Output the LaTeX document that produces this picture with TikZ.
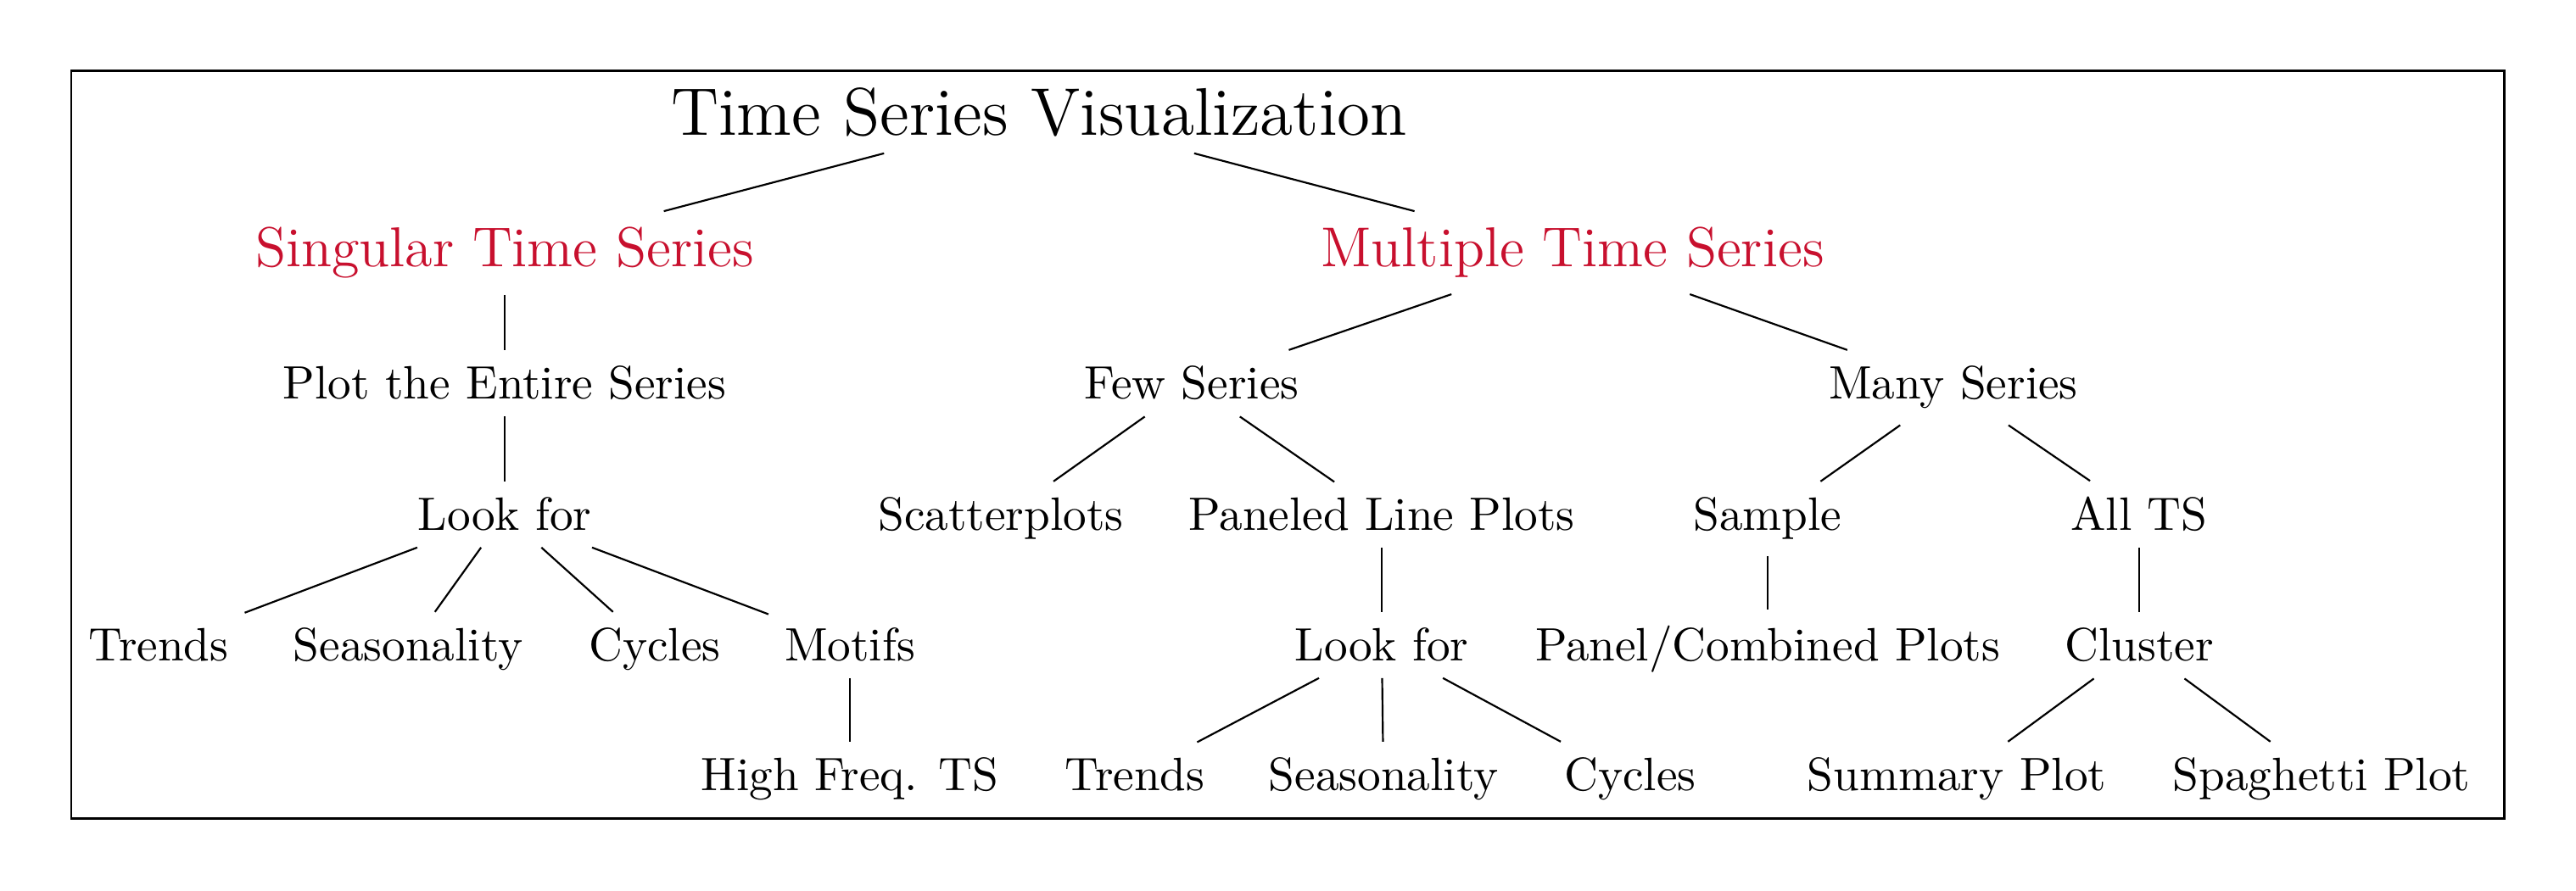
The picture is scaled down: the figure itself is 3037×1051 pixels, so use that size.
\documentclass[tikz,border=0pt]{standalone}
\definecolor{tsred}{RGB}{200,16,46}
\begin{document}
\begin{tikzpicture}[x=0.0064516cm,y=-0.0064516cm,
  every node/.style={anchor=base,inner sep=3.33pt,font=\fontsize{10.14}{12.2}\selectfont},
  heading/.style={font=\fontsize{14.6}{18}\selectfont},
  branch/.style={font=\fontsize{12.17}{14.6}\selectfont,text=tsred},
  leaf/.style={},
  conn/.style={line width=0.4pt},
  framebox/.style={line width=0.55pt}]
\useasboundingbox (0,0) rectangle (3037,1051);
\draw[framebox] (84,84) rectangle (2952,966);
% level 0
\node[heading] (title) at (1225,160) {Time Series Visualization};
% level 1
\node[branch] (sing) at (595,315) {Singular Time Series};
\node[branch] (mult) at (1854,315) {Multiple Time Series};
% level 2
\node[leaf] (plot) at (595,471) {Plot the Entire Series};
\node[leaf] (few) at (1405,471) {Few Series};
\node[leaf] (many) at (2303,471) {Many Series};
% level 3
\node[leaf] (lookA) at (595,626) {Look for};
\node[leaf] (scat) at (1180,626) {Scatterplots};
\node[leaf] (panl) at (1629,626) {Paneled Line Plots};
\node[leaf] (samp) at (2084,626) {Sample};
\node[leaf] (allts) at (2522,626) {All TS};
% level 4
\node[leaf] (trendA) at (187,780) {Trends};
\node[leaf] (seasA) at (481,780) {Seasonality};
\node[leaf] (cycA) at (772,780) {Cycles};
\node[leaf] (motif) at (1002,780) {Motifs};
\node[leaf] (lookB) at (1629,780) {Look for};
\node[leaf] (pcomb) at (2084,780) {Panel/Combined Plots};
\node[leaf] (clus) at (2522,780) {Cluster};
% level 5
\node[leaf] (hf) at (1002,933) {High Freq. TS};
\node[leaf] (trendB) at (1338,933) {Trends};
\node[leaf] (seasB) at (1631,933) {Seasonality};
\node[leaf] (cycB) at (1922,933) {Cycles};
\node[leaf] (summ) at (2307,933) {Summary Plot};
\node[leaf] (spag) at (2737,933) {Spaghetti Plot};
% connectors
\draw[conn] (title) -- (sing);
\draw[conn] (title) -- (mult);
\draw[conn] (sing) -- (plot);
\draw[conn] (plot) -- (lookA);
\draw[conn] (lookA) -- (trendA);
\draw[conn] (lookA) -- (seasA);
\draw[conn] (lookA) -- (cycA);
\draw[conn] (lookA) -- (motif);
\draw[conn] (motif) -- (hf);
\draw[conn] (mult) -- (few);
\draw[conn] (mult) -- (many);
\draw[conn] (few) -- (scat);
\draw[conn] (few) -- (panl);
\draw[conn] (panl) -- (lookB);
\draw[conn] (lookB) -- (trendB);
\draw[conn] (lookB) -- (seasB);
\draw[conn] (lookB) -- (cycB);
\draw[conn] (many) -- (samp);
\draw[conn] (many) -- (allts);
\draw[conn] (samp) -- (pcomb);
\draw[conn] (allts) -- (clus);
\draw[conn] (clus) -- (summ);
\draw[conn] (clus) -- (spag);
\end{tikzpicture}
\end{document}
